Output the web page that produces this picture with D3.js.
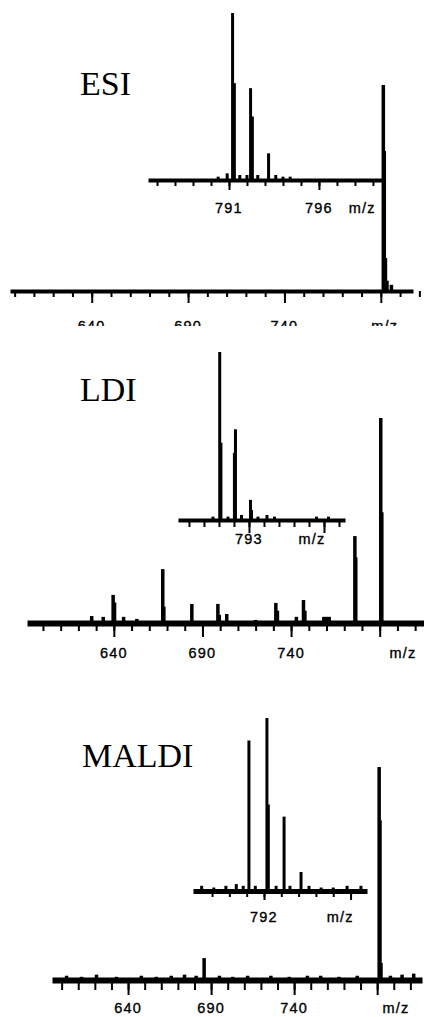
<!DOCTYPE html>
<html>
<head>
<meta charset="utf-8">
<script src="https://cdn.jsdelivr.net/npm/d3@7"></script>
<style>
  body { margin: 0; background: #fff; }
  svg { display: block; }
</style>
</head>
<body>
<svg id="chart" width="424" height="1017"></svg>
<script>
// peaks: [m/z, relative intensity %]
const esiMainPeaks = [[791.3, 100], [791.8, 68], [792.4, 16], [793.2, 5], [795.5, 3]]
const esiInsetPeaks = [[790.4, 2], [790.9, 4], [791.2, 100], [791.3, 58], [791.6, 3], [792.0, 3],
  [792.2, 55], [792.3, 38], [792.6, 3], [793.2, 16], [793.6, 3], [794.0, 2], [794.4, 2]]

const ldiMainPeaks = [[627.5, 3.4], [634, 3], [639.6, 13.7], [640.4, 10], [645.5, 3], [653, 2],
  [667.6, 26.3], [668.2, 8], [684, 9.3], [698.7, 9.3], [699.5, 4], [703.7, 4.4], [720, 1.5],
  [731.4, 9.8], [732.3, 6], [743, 3], [747, 11.2], [747.8, 6], [758.5, 3], [760, 3], [761.5, 3],
  [776, 42.4], [776.5, 32], [790.6, 100], [791.2, 54]]
const ldiInsetPeaks = [[790.6, 2], [791.05, 100], [791.13, 46], [791.6, 2], [792.03, 40], [792.1, 54],
  [792.5, 3], [793.1, 12], [793.17, 6], [793.6, 2], [794.2, 3], [794.7, 2], [797.5, 2], [798.3, 2]]

const maldiMainPeaks = [[603, 2], [612, 1.5], [621, 2.5], [633, 1.5], [648, 2], [657, 1.5], [666, 2],
  [674, 2.5], [681, 2], [685.8, 10.3], [695, 2], [703, 1.5], [712, 2], [726, 2], [737, 1.5],
  [748, 2], [756, 2], [767, 1.5], [778, 2], [791.2, 100], [791.7, 75], [792.3, 8], [798, 2],
  [805, 2.5], [812, 3]]
const maldiInsetPeaks = [[788.4, 3], [789.1, 2], [789.8, 3], [790.4, 4], [790.8, 3], [791.13, 87],
  [791.5, 3], [792.17, 100], [792.25, 50], [792.7, 3], [793.16, 43], [793.5, 3], [794.14, 11],
  [794.6, 3], [795.3, 2], [796, 2], [796.8, 3], [797.6, 3]]

// tick values
const mainMinor = d3.range(600, 811, 10)
const mainMajor = [640, 690, 740, 790]
const mainLabels = [640, 690, 740]
const esiInsetMinor = d3.range(787, 800)
const esiInsetMajor = [791, 796]
const ldiInsetMinor = d3.range(789, 800)
const ldiInsetMajor = [793, 798]
const maldiInsetMinor = d3.range(789, 798)
const maldiInsetMajor = [792, 797]

const titles = ['ESI', 'LDI', 'MALDI']

const svg = d3.select('#chart')
const sans = 'Liberation Sans, Arial, sans-serif'

// the ESI main tick labels are cut off in the original scan
svg.append('defs').append('clipPath').attr('id', 'esiclip')
  .append('rect').attr('x', 0).attr('y', 0).attr('width', 424).attr('height', 326)

function spectrum(peaks, sx, sy, w) {
  svg.append('g').selectAll('line')
    .data(peaks)
    .enter()
    .append('line')
    .attr('x1', d => sx(d[0])).attr('x2', d => sx(d[0]))
    .attr('y1', sy(0)).attr('y2', d => sy(d[1]))
    .attr('stroke', '#000').attr('stroke-width', w)
}

function axis(sx, y, minor, major, o) {
  let g = svg.append('g').attr('transform', `translate(0,${y})`)
  g.append('g')
    .call(d3.axisBottom(sx).tickValues(minor).tickSize(o.minor).tickSizeOuter(0).tickFormat(''))
    .call(a => a.select('.domain').attr('stroke-width', o.line))
    .call(a => a.selectAll('.tick line').attr('stroke-width', 2))
  g.append('g')
    .call(d3.axisBottom(sx).tickValues(major).tickSize(o.major).tickSizeOuter(0).tickFormat(''))
    .call(a => a.select('.domain').remove())
    .call(a => a.selectAll('.tick line').attr('stroke-width', 2))
}

function labels(sx, vals, mz, y) {
  let t = svg.append('g')
    .attr('font-family', sans).attr('font-size', 14.5).attr('letter-spacing', 1.2)
    .attr('text-anchor', 'middle').attr('fill', '#000')
    .attr('stroke', '#000').attr('stroke-width', 0.35)
  t.selectAll('text.v').data(vals).enter().append('text').attr('class', 'v')
    .attr('x', d => sx(d)).attr('y', y).text(d => d)
  t.append('text').attr('x', sx(mz)).attr('y', y).text('m/z')
  return t
}

function title(txt, x, y) {
  svg.append('text').attr('x', x).attr('y', y)
    .attr('font-family', 'Liberation Serif, Times New Roman, serif').attr('font-size', 34)
    .text(txt)
}

// ---- ESI ----
let sx = d3.scaleLinear([597.6, 806.7], [10, 413])
let sy = d3.scaleLinear([0, 100], [291, 85])
let ix = d3.scaleLinear([786.5, 799.67], [148, 385])
let iy = d3.scaleLinear([0, 100], [180, 13])
title(titles[0], 80, 95)
spectrum(esiInsetPeaks, ix, iy, 3)
axis(ix, 180, esiInsetMinor, esiInsetMajor, {line: 4, minor: 6, major: 10})
labels(ix, esiInsetMajor, 798.4, 213)
spectrum(esiMainPeaks, sx, sy, 3.5)
axis(sx, 291, mainMinor, mainMajor, {line: 4, minor: 6, major: 12})
labels(sx, mainLabels, 792, 331).attr('clip-path', 'url(#esiclip)')

// ---- LDI ----
sx = d3.scaleLinear([591, 815], [27, 424])
sy = d3.scaleLinear([0, 100], [623, 418])
ix = d3.scaleLinear([788.27, 799.4], [178, 345])
iy = d3.scaleLinear([0, 100], [520, 352])
title(titles[1], 80, 401)
spectrum(ldiInsetPeaks, ix, iy, 3)
axis(ix, 520, ldiInsetMinor, ldiInsetMajor, {line: 4, minor: 7, major: 13})
labels(ix, [793], 797.2, 544)
spectrum(ldiMainPeaks, sx, sy, 3.5)
axis(sx, 623, mainMinor, mainMajor, {line: 6, minor: 8, major: 14})
labels(sx, mainLabels, 803.2, 658)

// ---- MALDI ----
sx = d3.scaleLinear([594.2, 817], [52, 422])
sy = d3.scaleLinear([0, 100], [980, 767])
ix = d3.scaleLinear([787.9, 797.95], [193, 367])
iy = d3.scaleLinear([0, 100], [891, 718])
title(titles[2], 82, 767)
spectrum(maldiInsetPeaks, ix, iy, 3)
axis(ix, 891, maldiInsetMinor, maldiInsetMajor, {line: 5, minor: 6, major: 9})
labels(ix, [792], 796.4, 922)
spectrum(maldiMainPeaks, sx, sy, 3.5)
axis(sx, 980, mainMinor, mainMajor, {line: 6, minor: 10, major: 15})
labels(sx, mainLabels, 801.4, 1013)
</script>
</body>
</html>
